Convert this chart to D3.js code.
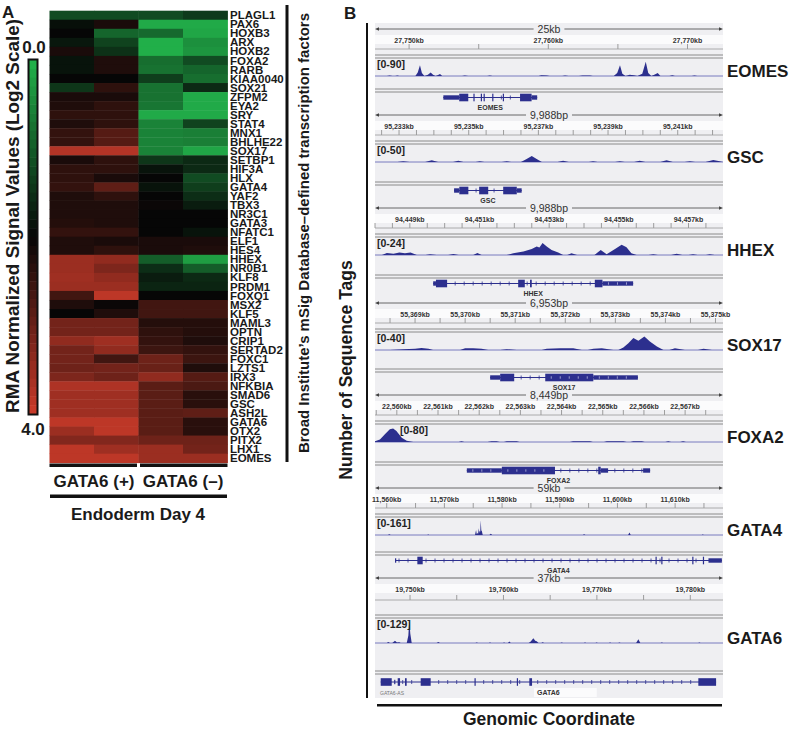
<!DOCTYPE html>
<html><head><meta charset="utf-8">
<script src="https://cdn.jsdelivr.net/npm/d3@7"></script>
<style>
body{margin:0;background:#fff}
svg{display:block}
text{font-family:"Liberation Sans",Arial,Helvetica,sans-serif}
</style>
</head><body>
<svg id="c" width="792" height="731"></svg>
<script>
// ================= PANEL A DATA =================
const geneNames = ["PLAGL1","PAX6","HOXB3","ARX","HOXB2","FOXA2","RARB","KIAA0040","SOX21","ZFPM2","EYA2","SRY","STAT4","MNX1","BHLHE22","SOX17","SETBP1","HIF3A","HLX","GATA4","YAF2","TBX3","NR3C1","GATA3","NFATC1","ELF1","HES4","HHEX","NR0B1","KLF8","PRDM1","FOXQ1","MSX2","KLF5","MAML3","OPTN","CRIP1","SERTAD2","FOXC1","LZTS1","IRX3","NFKBIA","SMAD6","GSC","ASH2L","GATA6","OTX2","PITX2","LHX1","EOMES"];
const gata6PosRep1 = [1.2,1.9,2.0,1.8,2.2,1.85,1.85,2.0,1.45,2.2,2.25,2.4,2.25,2.45,2.45,3.75,2.2,2.4,2.4,2.45,2.25,2.25,2.25,2.3,2.45,2.25,2.25,3.5,3.5,3.55,3.5,2.6,2.25,2.0,3.1,3.1,3.4,3.1,3.1,3.05,3.2,3.7,3.55,3.55,3.55,3.85,3.5,3.25,3.85,3.85];
const gata6PosRep2 = [1.2,2.2,0.9,1.3,1.5,2.25,2.25,2.0,2.4,2.2,2.4,2.4,2.4,2.8,2.8,3.75,2.4,2.4,2.2,2.9,2.4,2.25,2.25,2.25,2.45,2.2,2.4,3.4,3.2,3.4,3.5,3.85,2.05,2.25,3.1,3.1,3.55,3.4,2.6,3.1,3.05,3.7,3.55,3.55,3.55,3.85,3.85,3.25,3.55,3.85];
const gata6NegRep1 = [1.2,0.1,0.85,0.05,0.05,0.8,0.75,1.35,0.75,0.75,0.7,0.1,0.55,0.55,0.55,0.55,1.45,1.85,2.0,1.85,2.0,2.05,2.0,2.0,2.0,2.2,2.2,1.0,1.55,1.75,1.65,2.0,2.6,2.6,2.3,2.4,2.45,2.55,3.05,3.0,3.4,2.85,2.85,2.85,2.85,2.85,2.85,3.05,3.5,3.5];
const gata6NegRep2 = [1.4,0.1,0.15,0.4,0.35,1.2,0.9,0.8,1.6,0.1,0.1,0.1,1.3,0.6,0.6,0.15,1.6,1.6,1.2,1.35,1.55,1.75,2.0,2.0,1.85,2.2,2.25,0.25,1.0,1.6,1.65,2.0,2.6,2.6,2.3,2.3,2.25,2.45,2.55,2.25,2.8,2.7,2.35,2.35,2.9,2.35,2.35,3.05,3.1,3.5];
const sampleGroups = ["GATA6 (+)","GATA6 (–)"];
const colorbarLabels = ["0.0","4.0"];
const colorDomain = [0,4];

// ================= PANEL B DATA =================
const lociNames = ["EOMES","GSC","HHEX","SOX17","FOXA2","GATA4","GATA6"];
const lociSpanLabels = ["25kb","9,988bp","9,988bp","6,953bp","8,449bp","59kb","37kb"];
const lociStart = [27747.55,95232.31,94448.0,55368.2,22559.47,11557.97,19746.25];
const lociEnd   = [27772.55,95242.30,94457.99,55375.15,22567.92,11618.3,19783.5];
const lociMajorTicks = [
  [27750,27760,27770],
  [95233,95235,95237,95239,95241],
  [94449,94451,94453,94455,94457],
  [55369,55370,55371,55372,55373,55374,55375],
  [22560,22561,22562,22563,22564,22565,22566,22567],
  [11560,11570,11580,11590,11600,11610],
  [19750,19760,19770,19780]
];
const lociMinorStep = [5,0.5,0.5,0.5,0.5,5,5];
const lociDataRange = [90,50,24,40,80,161,129];

const eomesSignal = [[27747.6,0],[27748.4,0],[27748.6,3],[27748.8,0],[27749.0,0],[27749.15,3],[27749.3,0],[27750.45,0],[27750.62,18],[27750.78,57],[27750.92,16],[27751.1,0],[27751.35,7],[27751.55,18],[27751.72,6],[27751.9,0],[27752.08,5],[27752.22,11],[27752.38,0],[27753.8,0],[27754.0,3],[27754.25,0],[27755.6,0],[27755.8,3],[27756.0,0],[27759.3,0],[27759.5,4],[27759.9,3],[27760.1,0],[27761.0,0],[27761.2,3],[27761.45,0],[27762.2,0],[27762.45,3],[27763.0,3],[27763.2,0],[27764.7,0],[27764.95,16],[27765.15,57],[27765.32,12],[27765.55,0],[27765.85,6],[27766.15,4],[27766.4,0],[27766.75,12],[27767.0,75],[27767.18,16],[27767.4,0],[27767.65,8],[27767.86,16],[27768.05,0],[27768.7,0],[27768.9,4],[27769.1,0],[27770.3,0],[27770.5,2],[27770.7,0],[27772.5,0]];
const gscSignal = [[95232.3,0],[95232.95,0],[95233.12,2.5],[95233.3,0],[95233.75,0],[95233.94,5],[95234.12,0],[95234.55,0],[95234.7,4],[95234.85,0],[95235.2,0],[95235.32,2.5],[95235.45,0],[95235.95,0],[95236.09,2.5],[95236.22,0],[95236.5,0],[95236.65,8],[95236.81,18],[95236.95,9],[95237.1,0],[95237.55,0],[95237.71,4],[95237.87,0],[95238.45,0],[95238.57,2.5],[95238.7,0],[95239.2,0],[95239.34,2.5],[95239.48,0],[95239.75,0],[95239.91,4],[95240.07,0],[95240.5,0],[95240.68,5],[95240.86,0],[95241.2,0],[95241.35,2.5],[95241.5,0],[95241.8,0],[95242.02,6],[95242.2,2],[95242.3,0]];
const hhexSignal = [[94448.0,0],[94448.2,0],[94448.34,3],[94448.53,1.8],[94448.7,3.6],[94448.86,2.4],[94449.02,3.6],[94449.2,0],[94449.45,0],[94449.58,1.2],[94449.77,0],[94450.1,0],[94450.25,1.4],[94450.4,0],[94450.82,0],[94450.94,3],[94451.06,0],[94451.78,0],[94451.97,2.4],[94452.26,4.8],[94452.5,8.4],[94452.64,12],[94452.72,10.5],[94452.81,16.8],[94452.93,12],[94453.07,7.2],[94453.26,3.6],[94453.4,0],[94453.52,0],[94453.64,2.4],[94453.8,0],[94454.3,0],[94454.48,7.2],[94454.65,1.2],[94454.89,8.4],[94455.08,14.4],[94455.22,10.8],[94455.36,2.4],[94455.51,0],[94455.85,0],[94455.99,1.2],[94456.12,0],[94456.5,0],[94456.66,1.8],[94456.82,0],[94457.0,0],[94457.13,1.2],[94457.26,0],[94457.5,0],[94457.61,1.2],[94457.75,0],[94457.98,0]];
const sox17Signal = [[55368.2,0],[55368.5,0],[55368.77,2],[55369.0,3],[55369.13,5],[55369.27,3],[55369.36,0],[55369.9,0],[55370.0,4],[55370.16,4],[55370.33,3],[55370.46,0],[55370.7,0],[55370.83,2],[55371.03,0],[55371.53,0],[55371.63,3],[55371.9,4],[55372.16,4],[55372.33,0],[55372.45,0],[55372.56,3],[55372.73,4],[55372.96,0],[55373.06,0],[55373.16,6],[55373.26,16],[55373.36,28],[55373.46,22],[55373.58,32],[55373.69,20],[55373.83,8],[55373.96,0],[55374.08,0],[55374.19,4],[55374.39,0],[55374.65,0],[55374.76,3],[55374.93,0],[55375.15,0]];
const foxa2Signal = [[22559.47,4],[22559.59,12],[22559.71,36],[22559.83,60],[22559.91,64],[22559.99,52],[22560.12,20],[22560.24,6],[22560.4,0],[22561.5,0],[22561.57,3],[22561.64,0],[22562.2,0],[22562.3,4],[22562.42,4],[22562.5,0],[22562.6,0],[22562.67,4],[22562.91,4],[22562.98,0],[22564.2,0],[22564.28,4],[22564.69,4],[22564.76,0],[22565.03,0],[22565.1,4],[22565.5,4],[22565.58,0],[22565.67,0],[22565.74,4],[22565.95,4],[22566.02,0],[22566.52,0],[22566.59,3],[22566.66,0],[22566.88,0],[22566.95,3],[22567.02,0],[22567.92,0]];
const gata4Signal = [[11557.97,0],[11560.2,0],[11560.45,8],[11560.7,0],[11567.0,0],[11567.2,4],[11567.4,0],[11575.31,0],[11575.49,48],[11575.6,10],[11575.72,20],[11575.84,10],[11575.96,64],[11576.05,20],[11576.13,40],[11576.22,30],[11576.3,139],[11576.4,40],[11576.48,40],[11576.65,0],[11577.8,0],[11578.04,12],[11578.3,0],[11594.0,0],[11594.22,8],[11594.45,0],[11601.85,0],[11602.08,24],[11602.3,0],[11614.6,0],[11614.8,5],[11615.0,0],[11618.3,0]];
const gata6Signal = [[19746.25,0],[19747.5,0],[19747.68,5],[19747.85,0],[19748.1,0],[19748.39,12],[19748.6,3],[19748.85,4],[19749.0,0],[19749.65,0],[19749.82,40],[19749.92,125],[19750.03,50],[19750.18,0],[19752.85,0],[19753.03,5],[19753.2,0],[19757.0,0],[19757.14,3],[19757.28,0],[19758.42,0],[19758.56,3],[19758.7,0],[19759.95,0],[19760.06,3],[19760.2,0],[19760.48,0],[19760.63,8],[19760.78,0],[19762.7,0],[19762.92,8],[19763.2,25],[19763.4,12],[19763.56,10],[19763.75,0],[19764.05,0],[19764.2,4],[19764.35,0],[19766.1,0],[19766.24,3],[19766.38,0],[19768.6,0],[19768.73,3],[19768.86,0],[19769.85,0],[19769.98,3],[19770.1,0],[19771.28,0],[19771.41,3],[19771.55,0],[19772.28,0],[19772.41,3],[19772.55,0],[19774.2,0],[19774.44,20],[19774.65,0],[19776.82,0],[19776.95,3],[19777.1,0],[19780.84,0],[19780.97,3],[19781.1,0],[19783.5,0]];
const lociSignals = [eomesSignal,gscSignal,hhexSignal,sox17Signal,foxa2Signal,gata4Signal,gata6Signal];

// gene models: [start, end, kind]  kind c = coding (thick), u = UTR (thin)
const eomesGene = [[27752.46,27753.6,"u"],[27753.6,27754.25,"c"],[27754.62,27754.7,"c"],[27755.15,27755.22,"c"],[27755.35,27755.42,"c"],[27755.97,27756.04,"c"],[27756.73,27756.8,"c"],[27757.97,27758.8,"c"],[27758.8,27759.2,"u"]];
const gscGene = [[95234.58,95234.73,"u"],[95234.73,95234.99,"c"],[95235.30,95235.56,"c"],[95235.99,95236.38,"c"],[95236.38,95236.52,"u"]];
const hhexGene = [[94449.67,94449.75,"u"],[94449.75,94450.07,"c"],[94452.11,94452.30,"c"],[94452.45,94452.5,"c"],[94454.31,94454.53,"c"],[94454.53,94455.41,"u"]];
const sox17Gene = [[55370.50,55370.70,"u"],[55370.70,55370.98,"c"],[55371.60,55372.56,"c"],[55372.56,55373.45,"u"]];
const foxa2Gene = [[22561.70,22562.55,"u"],[22562.55,22563.84,"c"],[22564.89,22564.95,"c"],[22564.95,22565.13,"u"],[22565.98,22566.15,"u"]];
const gata4Gene = [[11561.44,11561.44,"u"],[11565.31,11566.24,"c"],[11606.6,11606.8,"c"],[11607.6,11607.8,"c"],[11612.97,11613.17,"c"],[11614.81,11615.01,"c"],[11615.78,11618.1,"u"]];
const gata6Gene = [[19746.86,19748.04,"c"],[19748.3,19748.4,"u"],[19748.68,19748.93,"c"],[19749.46,19749.64,"c"],[19751.14,19752.21,"c"],[19756.9,19757.02,"c"],[19761.43,19761.55,"c"],[19762.77,19763.06,"c"],[19780.86,19782.76,"c"]];
const lociGenes = [eomesGene,gscGene,hhexGene,sox17Gene,foxa2Gene,gata4Gene,gata6Gene];

// ================= LAYOUT =================
const BX0 = 375, BX1 = 723;           // track area of panel B
const blockTop = [29,115,208,303,395,488,578]; // ruler line of each IGV locus block
const panelBBottom = 698;

// ================= DRAW =================
const svg = d3.select("#c");
const BOLD = "bold";
const INK = "#1a1a1a";

// ---------- Panel A ----------
const color = d3.scaleLinear().domain([0,2,4]).range(["#22b34b","#060606","#cc3b2a"]).clamp(true);
const columnValues = [gata6PosRep1,gata6PosRep2,gata6NegRep1,gata6NegRep2];
const xA = d3.scaleBand().domain(d3.range(columnValues.length)).range([49.5,227.5]);
const yA = d3.scaleBand().domain(geneNames).range([10.7,462.7]);

const heat = svg.append("g");
columnValues.forEach((vals,ci)=>{
  heat.selectAll(null).data(vals).join("rect")
    .attr("x",xA(ci)).attr("width",xA.bandwidth()+0.4)
    .attr("y",(d,i)=>yA(geneNames[i])).attr("height",yA.bandwidth()+0.4)
    .attr("fill",d=>color(d));
});
svg.append("g").selectAll("text").data(geneNames).join("text")
  .attr("x",230).attr("y",d=>yA(d)+yA.bandwidth()/2+4.1)
  .attr("font-size",11.5).attr("font-weight",BOLD).attr("fill",INK)
  .text(d=>d);

// group bars under heatmap
const groupX = d3.scaleBand().domain(sampleGroups).range([49.5,227.5]);
svg.append("g").selectAll("rect").data(sampleGroups).join("rect")
  .attr("x",(d,i)=>groupX(d)+(i?1.5:0)).attr("width",groupX.bandwidth()-1.5)
  .attr("y",463.5).attr("height",3.5).attr("fill","#111");
svg.append("g").selectAll("text").data(sampleGroups).join("text")
  .attr("x",d=>groupX(d)+groupX.bandwidth()/2).attr("y",487)
  .attr("text-anchor","middle").attr("font-size",17).attr("font-weight",BOLD).attr("fill",INK)
  .text(d=>d);
svg.append("rect").attr("x",50).attr("width",177).attr("y",494.5).attr("height",3.5).attr("fill","#111");
svg.append("text").attr("x",138).attr("y",520).attr("text-anchor","middle")
  .attr("font-size",17).attr("font-weight",BOLD).attr("fill",INK).text("Endoderm Day 4");

// right vertical bar + label
svg.append("rect").attr("x",285.5).attr("y",5).attr("width",3).attr("height",457).attr("fill","#111");
svg.append("text").attr("transform","translate(309,233) rotate(-90)")
  .attr("text-anchor","middle").attr("font-size",15).attr("font-weight",BOLD).attr("fill",INK)
  .attr("textLength",440).attr("lengthAdjust","spacingAndGlyphs")
  .text("Broad Institute’s mSig Database–defined transcription factors");

// color bar
const yBar = d3.scaleLinear().domain(colorDomain).range([60,414]);
const barSteps = d3.range(colorDomain[0],colorDomain[1],0.1);
svg.append("g").selectAll("rect").data(barSteps).join("rect")
  .attr("x",29).attr("width",8)
  .attr("y",d=>yBar(d)).attr("height",yBar(0.1)-yBar(0)+0.5)
  .attr("fill",d=>color(d+0.05));
svg.append("rect").attr("x",28.5).attr("y",59.5).attr("width",9).attr("height",355)
  .attr("fill","none").attr("stroke","#111").attr("stroke-width",2);
svg.append("text").attr("x",34).attr("y",53).attr("text-anchor","middle")
  .attr("font-size",17).attr("font-weight",BOLD).attr("fill",INK).text(colorbarLabels[0]);
svg.append("text").attr("x",33).attr("y",435).attr("text-anchor","middle")
  .attr("font-size",17).attr("font-weight",BOLD).attr("fill",INK).text(colorbarLabels[1]);
svg.append("text").attr("transform","translate(19,216) rotate(-90)")
  .attr("text-anchor","middle").attr("font-size",18).attr("font-weight",BOLD).attr("fill",INK)
  .attr("textLength",394).attr("lengthAdjust","spacingAndGlyphs")
  .text("RMA Normalized Signal Values (Log2 Scale)");

// panel letters
svg.append("text").attr("x",2).attr("y",18).attr("font-size",17).attr("font-weight",BOLD).attr("fill",INK).text("A");
svg.append("text").attr("x",344).attr("y",19).attr("font-size",17).attr("font-weight",BOLD).attr("fill",INK).text("B");

// ---------- Panel B ----------
const BLUE = "#2c2f8e";
const PANEL_BG = "#efeff2";
const bgLayer = svg.append("g");
const gB = svg.append("g");

lociNames.forEach((name,i)=>{
  const r = blockTop[i];
  const last = i===lociNames.length-1;
  const nextR = last ? panelBBottom + 6 : blockTop[i+1];
  const x = d3.scaleLinear().domain([lociStart[i],lociEnd[i]]).range([BX0,BX1]);
  const tickBase = r + (last?22:20);
  const dbl = r + (last?37:26);
  const sigBase = r + (last?65:47);
  const dbl2 = last ? panelBBottom - 27 : Math.min(sigBase+20, nextR-26);
  const geneY = dbl2 + (last?11:8.5);
  const geneLab = geneY + (last?13:12);
  const bottom = nextR - 6;
  const g = gB.append("g");

  // backgrounds
  bgLayer.append("rect").attr("x",BX0).attr("width",BX1-BX0).attr("y",r-6).attr("height",bottom-(r-6)).attr("fill",PANEL_BG);
  bgLayer.append("rect").attr("x",BX0).attr("width",BX1-BX0).attr("y",r+6).attr("height",9).attr("fill","#fbfbfc");

  // ruler span line with arrows
  g.append("line").attr("x1",BX0+2).attr("x2",BX1-2).attr("y1",r).attr("y2",r).attr("stroke","#444").attr("stroke-width",0.8);
  g.append("path").attr("d",`M${BX0},${r}l4,-1.8v3.6z M${BX1},${r}l-4,-1.8v3.6z`).attr("fill","#444");
  const spanT = g.append("text").attr("x",(BX0+BX1)/2).attr("y",r+3.8).attr("text-anchor","middle")
    .attr("font-size",10.5).attr("fill","#333").text(lociSpanLabels[i]);
  const sw = spanT.node().getComputedTextLength();
  g.insert("rect",function(){return spanT.node();})
    .attr("x",(BX0+BX1)/2-sw/2-4).attr("width",sw+8).attr("y",r-4).attr("height",8).attr("fill",PANEL_BG);

  // ticks
  const minor = d3.range(Math.ceil(lociStart[i]/lociMinorStep[i])*lociMinorStep[i], lociEnd[i], lociMinorStep[i]);
  g.selectAll(null).data(minor).join("line")
    .attr("x1",d=>x(d)).attr("x2",d=>x(d)).attr("y1",tickBase-5).attr("y2",tickBase)
    .attr("stroke","#888").attr("stroke-width",0.8);
  g.append("line").attr("x1",BX0).attr("x2",BX1).attr("y1",tickBase).attr("y2",tickBase).attr("stroke","#999").attr("stroke-width",0.8);
  g.selectAll(null).data(lociMajorTicks[i]).join("text")
    .attr("x",d=>x(d)).attr("y",r+13.5).attr("text-anchor","middle")
    .attr("font-size",7).attr("font-weight",BOLD).attr("fill","#333")
    .text(d=>d3.format(",")(d)+"kb");

  // separator double lines
  [dbl,dbl2].forEach(yy=>{
    g.append("line").attr("x1",BX0).attr("x2",BX1).attr("y1",yy).attr("y2",yy).attr("stroke","#8a8a8a").attr("stroke-width",1);
    g.append("line").attr("x1",BX0).attr("x2",BX1).attr("y1",yy+3).attr("y2",yy+3).attr("stroke","#8a8a8a").attr("stroke-width",1);
  });

  // signal
  const ys = d3.scaleLinear().domain([0,lociDataRange[i]]).range([sigBase, dbl+4]);
  g.append("line").attr("x1",BX0).attr("x2",BX1).attr("y1",sigBase).attr("y2",sigBase).attr("stroke","#5a5db3").attr("stroke-width",0.8);
  g.append("path").datum(lociSignals[i])
    .attr("d",d3.area().x(d=>x(d[0])).y0(sigBase).y1(d=>ys(d[1])))
    .attr("fill",BLUE);
  const leftPeak = d3.max(lociSignals[i].filter(d=>x(d[0])<BX0+30),d=>d[1]) || 0;
  const labX = leftPeak > lociDataRange[i]*0.5 ? BX0+25 : BX0+2;
  g.append("text").attr("x",labX).attr("y",dbl+13).attr("font-size",10.5).attr("font-weight",BOLD).attr("fill","#222")
    .text(`[0-${lociDataRange[i]}]`);

  // gene model
  const gm = lociGenes[i];
  const gs = d3.min(gm,d=>d[0]), ge = d3.max(gm,d=>d[1]);
  g.append("line").attr("x1",x(gs)).attr("x2",x(ge)).attr("y1",geneY).attr("y2",geneY).attr("stroke",BLUE).attr("stroke-width",1);
  const chev = d3.range(x(gs)+4, x(ge), 9).filter(px=>!gm.some(e=>px>=x(e[0])-1&&px<=x(e[1])+1));
  g.selectAll(null).data(chev).join("line")
    .attr("x1",d=>d).attr("x2",d=>d).attr("y1",geneY-2).attr("y2",geneY+2).attr("stroke",BLUE).attr("stroke-width",0.8);
  g.selectAll(null).data(gm).join("rect")
    .attr("x",d=>x(d[0])).attr("width",d=>Math.max(1.2,x(d[1])-x(d[0])))
    .attr("y",d=>geneY-(d[2]==="c"?3.8:2.2)).attr("height",d=>d[2]==="c"?7.6:4.4)
    .attr("fill",BLUE);
  const inner = gm.filter(d=>x(d[1])-x(d[0])>20).flatMap(d=>d3.range(x(d[0])+6,x(d[1])-3,9));
  g.selectAll(null).data(inner).join("line")
    .attr("x1",d=>d).attr("x2",d=>d).attr("y1",geneY-1.2).attr("y2",geneY+1.2).attr("stroke","#c9cae8").attr("stroke-width",0.7);
  const glabX = (x(gs)+x(ge))/2;
  const gl = g.append("text").attr("x",glabX).attr("y",geneLab).attr("text-anchor","middle")
    .attr("font-size",7).attr("font-weight",BOLD).attr("fill","#333").text(name);
  if(last){
    const w = gl.node().getComputedTextLength();
    g.insert("rect",function(){return gl.node();}).attr("x",glabX-w/2-3).attr("width",w+40).attr("y",geneLab-7).attr("height",9).attr("fill","#fbfbfc");
    g.append("text").attr("x",BX0+5).attr("y",geneLab).attr("font-size",5).attr("fill","#777").text("GATA6-AS");
  }

  // right-side gene name
  svg.append("text").attr("x",727).attr("y",sigBase+1).attr("font-size",17).attr("font-weight",BOLD).attr("fill",INK).text(name);
});

// axes of panel B
svg.append("rect").attr("x",366).attr("y",23).attr("width",2).attr("height",panelBBottom-23).attr("fill","#111");
svg.append("rect").attr("x",377).attr("y",704).attr("width",345).attr("height",2.5).attr("fill","#111");
svg.append("text").attr("transform","translate(352,370) rotate(-90)").attr("text-anchor","middle")
  .attr("font-size",17.5).attr("font-weight",BOLD).attr("fill",INK).text("Number of Sequence Tags");
svg.append("text").attr("x",549).attr("y",725).attr("text-anchor","middle")
  .attr("font-size",17.5).attr("font-weight",BOLD).attr("fill",INK).text("Genomic Coordinate");
</script>
</body></html>
